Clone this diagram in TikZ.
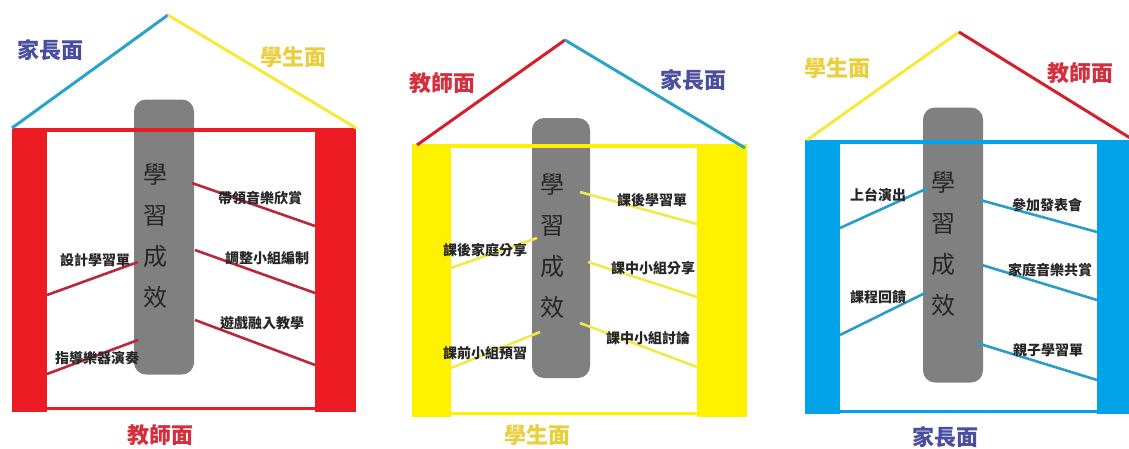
\documentclass[tikz,border=0pt]{standalone}
\usepackage{fontspec}
\newfontfamily\cjk{Noto Sans CJK TC}
\definecolor{wallred}{HTML}{ED1C24}
\definecolor{wallyellow}{HTML}{FFF200}
\definecolor{wallblue}{HTML}{00A2E8}
\definecolor{linkred}{HTML}{B8283A}
\definecolor{linkyellow}{HTML}{F2E84A}
\definecolor{linkblue}{HTML}{2A9CC8}
\definecolor{roofblue}{HTML}{2AA3C9}
\definecolor{roofyellow}{HTML}{F8E838}
\definecolor{roofred}{HTML}{D3202C}
\definecolor{parentcol}{HTML}{4A4E9E}
\definecolor{studentcol}{HTML}{E9CF3E}
\definecolor{teachercol}{HTML}{D2303E}
\definecolor{pillargray}{HTML}{808080}

\begin{document}
\begin{tikzpicture}[x=1pt, y=-1pt,
    roof/.style={line width=3pt},
    link/.style={line width=2.6pt},
    pillar/.style={rectangle, fill=pillargray, inner sep=0pt,
        minimum width=60pt, minimum height=275pt, rounded corners=12pt},
    pillar text/.style={font=\cjk\fontsize{24}{41}\selectfont,
        text=black!85, align=center},
    side label/.style={font=\cjk\bfseries\fontsize{22}{24}\selectfont},
    item/.style={font=\cjk\bfseries\fontsize{14}{16}\selectfont,
        text=black!85, inner sep=1pt}
  ]

  \useasboundingbox (0,0) rectangle (1129,448);

  % ---------- house 1: teachers ----------
  \fill [wallred] (12,128) rectangle (47,412);
  \fill [wallred] (315,128) rectangle (356,412);
  \draw [wallred, line width=3pt] (47,408) -- (315,408);

  \node [pillar] (pilA) at (164,237) {};
  \node [pillar text] (pilAtxt) at (155,236) {學\\習\\成\\效};

  \draw [wallred, line width=3.5pt] (12,130) -- (356,130);

  \coordinate (apexA) at (168,15);
  \coordinate (eaveAl) at (12,128);
  \coordinate (eaveAr) at (356,128);
  \draw [roof, roofblue] (eaveAl) -- (apexA);
  \draw [roof, roofyellow] (apexA) -- (eaveAr);

  \coordinate (a1s) at (192,183);
  \coordinate (a1e) at (315,226);
  \coordinate (a2s) at (195,250);
  \coordinate (a2e) at (315,293);
  \coordinate (a3s) at (195,320);
  \coordinate (a3e) at (315,365);
  \coordinate (a4s) at (138,262);
  \coordinate (a4e) at (47,295);
  \coordinate (a5s) at (138,340);
  \coordinate (a5e) at (47,374);
  \draw [link, linkred] (a1s) -- (a1e);
  \draw [link, linkred] (a2s) -- (a2e);
  \draw [link, linkred] (a3s) -- (a3e);
  \draw [link, linkred] (a4s) -- (a4e);
  \draw [link, linkred] (a5s) -- (a5e);

  \node [item] (a1t) at (260,198) {帶領音樂欣賞};
  \node [item] (a2t) at (267,258) {調整小組編制};
  \node [item] (a3t) at (262,323) {遊戲融入教學};
  \node [item] (a4t) at (95,260) {設計學習單};
  \node [item] (a5t) at (97,358) {指導樂器演奏};

  \node [side label, text=parentcol] (parA) at (50,50) {家長面};
  \node [side label, text=studentcol] (stuA) at (293,57) {學生面};
  \node [side label, text=teachercol] (teaA) at (160,435) {教師面};

  % ---------- house 2: students ----------
  \fill [wallyellow] (412,145) rectangle (451,417);
  \fill [wallyellow] (697,145) rectangle (747,417);
  \draw [wallyellow, line width=3pt] (451,413) -- (697,413);

  \node [pillar, minimum width=58pt, minimum height=260pt] (pilB) at (561,248) {};
  \node [pillar text] (pilBtxt) at (552,246) {學\\習\\成\\效};

  \draw [wallyellow, line width=4pt] (412,146) -- (747,146);

  \coordinate (apexB) at (565,40);
  \coordinate (eaveBl) at (417,145);
  \coordinate (eaveBr) at (745,148);
  \draw [roof, roofred] (eaveBl) -- (apexB);
  \draw [roof, roofblue] (apexB) -- (eaveBr);

  \coordinate (b1s) at (580,192);
  \coordinate (b1e) at (697,224);
  \coordinate (b2s) at (588,262);
  \coordinate (b2e) at (697,297);
  \coordinate (b3s) at (580,323);
  \coordinate (b3e) at (697,367);
  \coordinate (b4s) at (537,238);
  \coordinate (b4e) at (451,268);
  \coordinate (b5s) at (540,332);
  \coordinate (b5e) at (451,368);
  \draw [link, linkyellow] (b1s) -- (b1e);
  \draw [link, linkyellow] (b2s) -- (b2e);
  \draw [link, linkyellow] (b3s) -- (b3e);
  \draw [link, linkyellow] (b4s) -- (b4e);
  \draw [link, linkyellow] (b5s) -- (b5e);

  \node [item] (b1t) at (652,200) {課後學習單};
  \node [item] (b2t) at (653,268) {課中小組分享};
  \node [item] (b3t) at (648,338) {課中小組討論};
  \node [item] (b4t) at (485,250) {課後家庭分享};
  \node [item] (b5t) at (485,353) {課前小組預習};

  \node [side label, text=teachercol] (teaB) at (442,83) {教師面};
  \node [side label, text=parentcol] (parB) at (693,80) {家長面};
  \node [side label, text=studentcol] (stuB) at (537,435) {學生面};

  % ---------- house 3: parents ----------
  \fill [wallblue] (805,141) rectangle (840,414);
  \fill [wallblue] (1097,141) rectangle (1135,414);
  \draw [wallblue, line width=3pt] (840,411) -- (1097,411);

  \node [pillar] (pilC) at (953,245) {};
  \node [pillar text] (pilCtxt) at (943,244) {學\\習\\成\\效};

  \draw [wallblue, line width=3.5pt] (805,142) -- (1135,142);

  \coordinate (apexC) at (959,32);
  \coordinate (eaveCl) at (807,140);
  \coordinate (eaveCr) at (1135,141);
  \draw [roof, roofyellow] (eaveCl) -- (apexC);
  \draw [roof, roofred] (apexC) -- (eaveCr);

  \coordinate (c1s) at (980,200);
  \coordinate (c1e) at (1097,232);
  \coordinate (c2s) at (982,265);
  \coordinate (c2e) at (1097,300);
  \coordinate (c3s) at (977,343);
  \coordinate (c3e) at (1097,380);
  \coordinate (c4s) at (928,188);
  \coordinate (c4e) at (840,228);
  \coordinate (c5s) at (925,293);
  \coordinate (c5e) at (840,335);
  \draw [link, linkblue] (c1s) -- (c1e);
  \draw [link, linkblue] (c2s) -- (c2e);
  \draw [link, linkblue] (c3s) -- (c3e);
  \draw [link, linkblue] (c4s) -- (c4e);
  \draw [link, linkblue] (c5s) -- (c5e);

  \node [item] (c1t) at (1047,205) {參加發表會};
  \node [item] (c2t) at (1050,270) {家庭音樂共賞};
  \node [item] (c3t) at (1048,350) {親子學習單};
  \node [item] (c4t) at (878,195) {上台演出};
  \node [item] (c5t) at (878,297) {課程回饋};

  \node [side label, text=studentcol] (stuC) at (837,68) {學生面};
  \node [side label, text=teachercol] (teaC) at (1080,73) {教師面};
  \node [side label, text=parentcol] (parC) at (945,437) {家長面};

\end{tikzpicture}
\end{document}
